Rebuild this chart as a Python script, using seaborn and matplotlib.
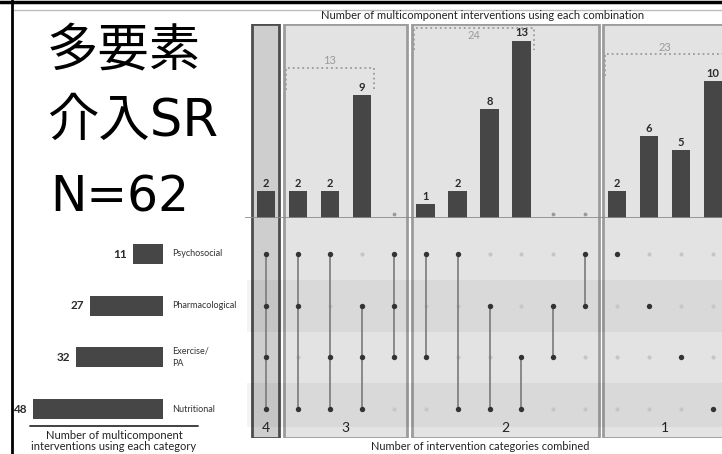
import numpy as np
import pandas as pd
import matplotlib
matplotlib.use('Agg')
import matplotlib.pyplot as plt
from matplotlib.patches import Rectangle
import seaborn as sns

# data
categories = ['Psychosocial', 'Pharmacological', 'Exercise/\nPA', 'Nutritional']
category_totals = [11, 27, 32, 48]

# which categories (row index) each combination uses
combo_members = [
    (0, 1, 2, 3),
    (0, 1, 3), (0, 2, 3), (1, 2, 3), (0, 1, 2),
    (0, 2), (0, 3), (1, 3), (2, 3), (1, 2), (0, 1),
    (0,), (1,), (2,), (3,),
]
combo_counts = [2, 2, 2, 9, 0, 1, 2, 8, 13, 0, 0, 2, 6, 5, 10]
group_sizes = [4, 3, 2, 1]

sns.set_theme(style='white')
plt.rcParams['font.family'] = ['Lato', 'DejaVu Sans']

W, H = 722, 454
fig = plt.figure(figsize=(W / 100, H / 100), dpi=100)


def px_axes(x0, y0, x1, y1):
    return fig.add_axes([x0 / W, 1 - y1 / H, (x1 - x0) / W, (y1 - y0) / H])


# pixel layout
col0, colstep = 266, 31.93
row0, rowstep = 254, 51.67
base_y, unit = 218, 13.65
xlim = ((245 - col0) / colstep, (722 - col0) / colstep)
mat_ylim = ((438 - row0) / rowstep, (218 - row0) / rowstep)
top_max = (base_y - 24) / unit

df = pd.DataFrame({'combo': range(len(combo_counts)), 'count': combo_counts,
                   'size': [len(m) for m in combo_members]})

# background panels
ax_bg = px_axes(245, 24, 722, 438)
ax_bg.set_xlim(xlim)
ax_bg.set_ylim(0, 1)
ax_bg.axis('off')
for g in group_sizes:
    idx = df.index[df['size'] == g]
    first, last = idx.min(), idx.max()
    if g == 4:
        fc, ec = '#cecece', '#4d4d4d'
    else:
        fc, ec = '#e3e3e3', '#9c9c9c'
    ax_bg.add_patch(Rectangle((first - 0.44, 0), last - first + 0.86, 1,
                              facecolor=fc, edgecolor=ec, lw=2))

# combination bars
ax_top = px_axes(245, 24, 722, 218)
ax_top.patch.set_alpha(0)
sns.barplot(data=df, x='combo', y='count', color='#464646', width=0.58,
            saturation=1, linewidth=0, ax=ax_top)
ax_top.set_xlim(xlim)
ax_top.set_ylim(0, top_max)
ax_top.axhline(0, color='#8a8a8a', lw=1.2)
ax_top.axis('off')
for i, c in enumerate(combo_counts):
    if c > 0:
        ax_top.annotate(str(c), (i, c), xytext=(0, 1.5), textcoords='offset points',
                        ha='center', va='bottom', fontsize=8, fontweight='bold',
                        color='#2a2a2a')
    else:
        ax_top.scatter([i], [0.3], s=3, color='#9a9a9a', zorder=3)

# dotted brackets with group totals
for g in group_sizes[1:]:
    sub = df[(df['size'] == g) & (df['count'] > 0)]
    x0, x1 = sub['combo'].min() - 0.38, sub['combo'].max() + 0.38
    top = min(sub['count'].max() + 2, 13.9)
    leg = top - 1.6
    ax_top.plot([x0, x0, x1, x1], [leg, top, top, leg], ls=':', color='#9a9a9a',
                lw=1.3)
    if top + 1.2 < top_max:
        off, va = (0, 1), 'bottom'
    else:
        off, va = (0, -1.5), 'top'
    ax_top.annotate(str(sub['count'].sum()), ((x0 + x1) / 2, top), xytext=off,
                    textcoords='offset points', ha='center', va=va,
                    fontsize=8, color='#9a9a9a')

# dot matrix
ax_mat = px_axes(245, 218, 722, 438)
ax_mat.patch.set_alpha(0)
ax_mat.set_xlim(xlim)
ax_mat.set_ylim(mat_ylim)
ax_mat.axis('off')
ax_mat.axhspan(0.5, 1.5, xmin=0.005, color='black', alpha=0.045, lw=0)
ax_mat.axhspan(2.5, 3.35, xmin=0.005, color='black', alpha=0.045, lw=0)
for i, members in enumerate(combo_members):
    empty = [r for r in range(len(categories)) if r not in members]
    ax_mat.scatter([i] * len(empty), empty, s=9, color='#c6c6c6', lw=0, zorder=2)
    if len(members) > 1:
        ax_mat.plot([i, i], [min(members), max(members)], color='#7a7a7a', lw=1.2, zorder=3)
    ax_mat.scatter([i] * len(members), list(members), s=15, color='#333333', lw=0, zorder=4)
for g in group_sizes:
    idx = df.index[df['size'] == g]
    ax_mat.text(idx.to_numpy().mean(), 3.37, str(g), ha='center', va='center',
                fontsize=10, color='#222222')

# category totals on the left
ax_left = px_axes(0, 218, 163, 438)
ax_left.patch.set_alpha(0)
sns.barplot(x=category_totals, y=list(range(len(categories))), orient='h',
            color='#464646', width=0.39, saturation=1, linewidth=0, ax=ax_left)
ax_left.set_xlim(163 / 2.71, 0)
ax_left.set_ylim(mat_ylim)
ax_left.axis('off')
for r, v in enumerate(category_totals):
    ax_left.annotate(str(v), (v, r), xytext=(-4.5, 0), textcoords='offset points',
                     ha='right', va='center', fontsize=8.5, fontweight='bold',
                     color='#2a2a2a')
    ax_left.annotate(categories[r], (0, r), xytext=(6.5, 0), textcoords='offset points',
                     ha='left', va='center', fontsize=6.5, color='#333333',
                     linespacing=1.5, annotation_clip=False)

# overlay for frame, titles and the big note
ax_f = fig.add_axes([0, 0, 1, 1], zorder=10)
ax_f.patch.set_alpha(0)
ax_f.set_xlim(0, W)
ax_f.set_ylim(H, 0)
ax_f.axis('off')
ax_f.plot([0, W], [1.5, 1.5], color='black', lw=2.5)
ax_f.plot([14, W], [9.5, 9.5], color='#bdbdbd', lw=1)
ax_f.plot([12, 12], [0, H], color='black', lw=2)
ax_f.text(483, 15.5, 'Number of multicomponent interventions using each combination',
          ha='center', va='center', fontsize=8, color='#222222')
ax_f.text(480, 447, 'Number of intervention categories combined',
          ha='center', va='center', fontsize=7.9, color='#222222')
ax_f.plot([30, 198], [426, 426], color='#333333', lw=1.3)
ax_f.text(114, 441, 'Number of multicomponent\ninterventions using each category',
          ha='center', va='center', fontsize=8, color='#222222', linespacing=1.1)

big = dict(ha='center', va='center', color='black',
           family=['DejaVu Sans', 'Noto Sans CJK JP'])
ax_f.text(124, 51, '多要素', fontsize=37, **big)
ax_f.text(133, 122, '介入SR', fontsize=37, **big)
ax_f.text(120, 197, 'N=62', fontsize=35, **big)

fig.savefig('out.png', dpi=100)
